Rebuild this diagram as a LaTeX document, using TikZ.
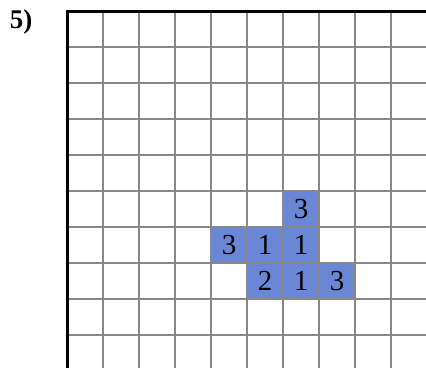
\documentclass[tikz,border=0pt]{standalone}
\usepackage{fontspec}
\setmainfont{Liberation Serif}
\definecolor{cellblue}{RGB}{106,135,214}
\definecolor{gridgray}{RGB}{136,136,136}
\begin{document}
\begin{tikzpicture}[x=1pt,y=-1pt,
  gridline/.style={draw=gridgray,line width=1.6pt},
  border/.style={draw=black,line width=3pt},
  cellbox/.style={fill=cellblue,draw=gridgray,line width=1.6pt,minimum width=36pt,minimum height=36pt,inner sep=0pt,outer sep=0pt,font=\fontsize{29}{29}\selectfont},
  label/.style={font=\bfseries\fontsize{27}{27}\selectfont,inner sep=0pt}]
\useasboundingbox (0,0) rectangle (426,368);
\fill[white] (0,0) rectangle (426,368);
% grid
\foreach \i in {1,...,10} {\draw[gridline] (67+36*\i,11) -- (67+36*\i,368);}
\foreach \j in {1,...,10} {\draw[gridline] (67,11+36*\j) -- (426,11+36*\j);}
% blue cells
\node[cellbox] (c1) at (301,209) {3};
\node[cellbox] (c2) at (229,245) {3};
\node[cellbox] (c3) at (265,245) {1};
\node[cellbox] (c4) at (301,245) {1};
\node[cellbox] (c5) at (265,281) {2};
\node[cellbox] (c6) at (301,281) {1};
\node[cellbox] (c7) at (337,281) {3};
% border
\draw[border] (67,368) -- (67,11) -- (426,11);
\node[label] (lab) at (21,22) {5)};
\end{tikzpicture}
\end{document}
